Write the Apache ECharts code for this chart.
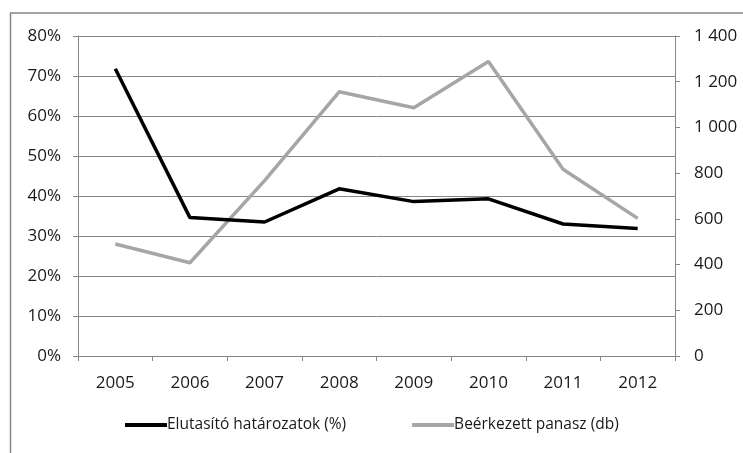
<!DOCTYPE html>
<html>
<head>
<meta charset="utf-8">
<script src="https://cdn.jsdelivr.net/npm/echarts@6/dist/echarts.min.js"></script>
<style>
  html, body { margin: 0; padding: 0; background: #fff; }
  #chart { width: 743px; height: 453px; }
</style>
</head>
<body>
<div id="chart"></div>
<script>
  var years = ['2005', '2006', '2007', '2008', '2009', '2010', '2011', '2012']
  var elutasito = [71.8, 34.6, 33.5, 41.8, 38.6, 39.3, 33.0, 31.9]
  var panasz = [490, 408, 767, 1156, 1086, 1288, 817, 602]

  var myChart = echarts.init(document.getElementById('chart'))
  var fontFam = 'Open Sans'

  // ezres tagolás szóközzel: 1 400
  function fmtNum(v) {
      return String(v).replace(/\B(?=(\d{3})+(?!\d))/g, ' ')
  }

  var option = {
      animation: false,
      color: ['#000000', '#a6a6a6'],
      graphic: [{
          type: 'rect',
          shape: { x: 10.5, y: 13, width: 760, height: 460 },
          style: { fill: 'none', stroke: '#868686', lineWidth: 1.5 }
      }],
      grid: {
          left: 78,
          right: 68,
          top: 36,
          bottom: 97
      },
      legend: {
          bottom: 15,
          left: 120,
          itemGap: 66,
          itemWidth: 42,
          itemHeight: 4,
          icon: 'rect',
          textStyle: { fontFamily: fontFam, fontSize: 15.5, color: '#1a1a1a', padding: [0, 0, 0, -5] },
          data: ['Elutasító határozatok (%)', 'Beérkezett panasz (db)']
      },
      xAxis: {
          type: 'category',
          data: years,
          boundaryGap: true,
          axisLine: { lineStyle: { color: '#868686', width: 1 } },
          axisTick: { show: true, length: 5, lineStyle: { color: '#868686' } },
          axisLabel: { fontFamily: fontFam, fontSize: 17, color: '#1a1a1a', margin: 19 }
      },
      yAxis: [{
          type: 'value',
          min: 0,
          max: 80,
          interval: 10,
          axisLine: { show: true, lineStyle: { color: '#868686', width: 1 } },
          axisTick: { show: true, length: 5, lineStyle: { color: '#868686' } },
          splitLine: { lineStyle: { color: '#868686', width: 1 } },
          axisLabel: { fontFamily: fontFam, fontSize: 17, color: '#1a1a1a', margin: 17, formatter: '{value}%' }
      }, {
          type: 'value',
          min: 0,
          max: 1400,
          interval: 200,
          position: 'right',
          axisLine: { show: true, lineStyle: { color: '#868686', width: 1 } },
          axisTick: { show: true, length: 5, lineStyle: { color: '#868686' } },
          splitLine: { show: false },
          axisLabel: { fontFamily: fontFam, fontSize: 17, color: '#1a1a1a', margin: 19, formatter: fmtNum }
      }],
      series: [{
          name: 'Elutasító határozatok (%)',
          type: 'line',
          yAxisIndex: 0,
          data: elutasito,
          symbol: 'none',
          lineStyle: { color: '#000000', width: 3.5 },
          itemStyle: { color: '#000000' },
          z: 3
      }, {
          name: 'Beérkezett panasz (db)',
          type: 'line',
          yAxisIndex: 1,
          data: panasz,
          symbol: 'none',
          lineStyle: { color: '#a6a6a6', width: 3.5 },
          itemStyle: { color: '#a6a6a6' },
          z: 2
      }]
  }
  myChart.setOption(option)
</script>
</body>
</html>
